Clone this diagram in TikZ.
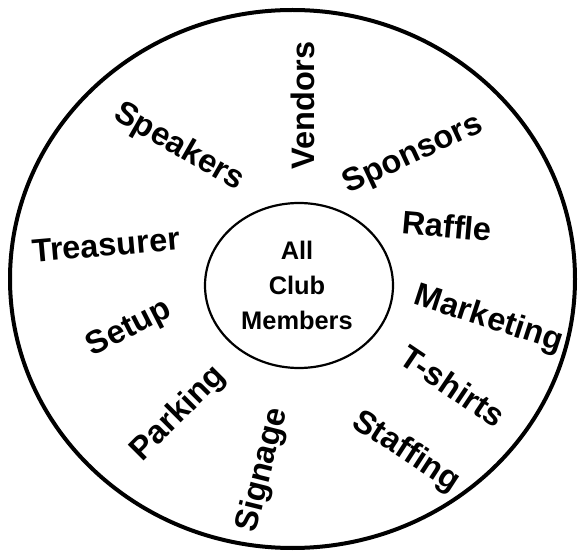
\documentclass[tikz,border=0pt]{standalone}
\usepackage{fontspec}
\setmainfont{Liberation Sans}
\usetikzlibrary{shapes.geometric}
\begin{document}
\begin{tikzpicture}[x=1pt,y=-1pt,
  lab/.style={font=\fontsize{32.5}{36}\selectfont\bfseries, inner sep=0pt},
  ctr/.style={font=\fontsize{25.4}{35}\selectfont\bfseries, align=center, inner sep=0pt}]
\useasboundingbox (0,0) rectangle (579,556);
\draw[line width=4pt] (292.5,279) ellipse [x radius=282.5, y radius=269];
\node[draw, line width=2.2pt, ellipse, minimum width=188pt, minimum height=165pt, inner sep=0pt] (hub) at (299,285.5) {};
\node[ctr] (all) at (297,285) {All\\Club\\Members};
\node[lab, rotate=90] (vendors) at (303,105.5) {Vendors};
\node[lab, rotate=-30] (speakers) at (179,147.5) {Speakers};
\node[lab, rotate=25] (sponsors) at (413.5,155) {Sponsors};
\node[lab, rotate=-5] (raffle) at (447,226) {Raffle};
\node[lab, rotate=5] (treasurer) at (106,245) {Treasurer};
\node[lab, rotate=-18] (marketing) at (488.5,319.5) {Marketing};
\node[lab, rotate=27] (setup) at (129.5,328.5) {Setup};
\node[lab, rotate=-34] (tshirts) at (453,386) {T-shirts};
\node[lab, rotate=45] (parking) at (178.5,414) {Parking};
\node[lab, rotate=76] (signage) at (263,470) {Signage};
\node[lab, rotate=-33] (staffing) at (406,452) {Staffing};
\end{tikzpicture}
\end{document}
